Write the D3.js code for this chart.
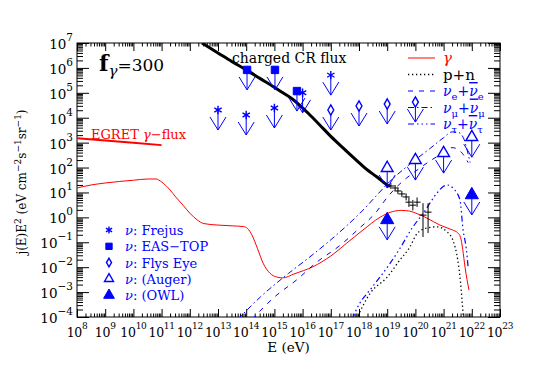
<!DOCTYPE html>
<html>
<head>
<meta charset="utf-8">
<script src="https://cdn.jsdelivr.net/npm/d3@7"></script>
<style>
  body { margin: 0; background: #fff; }
  svg { font-family: "DejaVu Serif", "Liberation Serif", serif; }
</style>
</head>
<body>
<div id="chart"></div>
<script>
// values are log10(E/eV) and log10(j E^2)
var gammaCurve = [[8,1.18],[8.5,1.3],[9,1.38],[9.5,1.44],[10,1.49],[10.5,1.54],[10.8,1.54],[11.0,1.42],
  [11.3,1.1],[11.5,0.82],[11.76,0.49],[12.0,0.17],[12.26,-0.1],[12.5,-0.25],[13.0,-0.31],[13.5,-0.34],
  [13.9,-0.37],[14.05,-0.45],[14.2,-0.7],[14.4,-1.25],[14.6,-1.84],[14.84,-2.24],[15.1,-2.4],[15.3,-2.43],
  [15.7,-2.27],[16.37,-1.98],[17.0,-1.55],[17.57,-1.03],[18.14,-0.51],[18.74,0.0],[19.1,0.2],[19.5,0.28],
  [19.8,0.25],[20.06,0.15],[20.41,-0.03],[20.87,-0.31],[21.3,-0.5],[21.5,-0.62],[21.6,-0.8],[21.68,-1.3],
  [21.76,-2.0],[21.9,-2.92]];
var egretFlux = [[8,3.18],[9,3.09],[10,3.0],[11,2.9]];
var crFlux = [[12.43,7.0],[13.0,6.6],[13.5,6.25],[14.0,5.92],[14.5,5.57],[15.0,5.22],[15.3,5.0],[15.6,4.78],
  [15.9,4.5],[16.2,4.18],[16.6,3.72],[17.0,3.25],[17.5,2.72],[18.0,2.2],[18.3,1.9],[18.64,1.62],[19.0,1.3],[19.1,1.24]];
var pnCurve = [[17.9,-4.1],[18.4,-3.04],[19.0,-2.4],[19.45,-1.71],[19.8,-1.2],[20.06,-0.65],[20.4,-0.43],
  [20.77,-0.38],[21.12,-0.58],[21.33,-0.92],[21.5,-1.7],[21.6,-2.6],[21.69,-3.85],[21.72,-4.3]];
var nuECurve = [[14.2,-4.1],[15.0,-3.2],[15.8,-2.5],[16.5,-1.8],[17.3,-1.15],[18.0,-0.45],[18.6,0.2],[19.0,0.8],
  [19.5,1.4],[20.0,1.85],[20.5,2.25],[21.0,2.6],[21.3,2.8],[21.6,2.65],[21.87,2.2]];
var nuMuCurve = [[13.7,-4.1],[14.5,-3.2],[15.5,-2.25],[16.3,-1.55],[17.0,-0.9],[17.6,-0.3],[18.15,0.3],[18.6,0.85],
  [19.1,1.45],[19.6,1.95],[20.1,2.4],[20.5,2.75],[21.0,3.2],[21.3,3.43],[21.5,3.42],[21.7,3.2],[21.8,2.85],[21.94,2.2]];
var nuTauCurve = [[17.75,-4.1],[18.0,-3.5],[18.4,-2.9],[19.1,-1.85],[19.45,-1.25],[19.9,-0.4],[20.27,0.15],
  [20.77,0.98],[21.0,1.25],[21.15,1.3],[21.35,1.15],[21.58,0.7],[21.69,-0.5],[21.8,-1.23],[21.87,-2.0]];

// AGASA-like crosses: logE, logJ, lower, upper
var crDataE  = [19.13,19.28,19.38,19.52,19.67,19.77,19.91,20.06,20.27,20.45];
var crDataJ  = [1.26,1.18,1.06,0.94,0.82,0.61,0.49,0.61,0.09,0.21];
var crDataLo = [1.14,1.06,0.94,0.82,0.68,0.42,0.28,0.42,-0.79,-0.63];
var crDataHi = [1.38,1.3,1.18,1.06,0.96,0.8,0.7,0.8,0.57,0.57];

// neutrino upper limits
var frejusE = [13,14,15,16,17],        frejusJ = [4.31,4.11,4.39,5.0,5.71];
var easTopE = [14.03,15.02,15.8],      easTopJ = [5.92,5.92,5.07];
var flysEyeE = [17,18,19,20],          flysEyeJ = [4.31,4.47,4.55,4.63];
var augerE = [19,20,21,22],            augerJ = [1.98,2.3,2.58,3.22];
var owlE = [19,22],                    owlJ = [-0.1,0.9];

var xExp = d3.range(8, 24);
var yExp = d3.range(-4, 8);

var svgWidth = 557, svgHeight = 370;
var margin = {top: 43, left: 77, right: 57, bottom: 53};
var x0 = margin.left, x1 = svgWidth - margin.right;
var y0 = margin.top, y1 = svgHeight - margin.bottom;

var svg = d3.select("#chart").append("svg")
  .attr("width", svgWidth).attr("height", svgHeight);

var x = d3.scaleLog().domain([1e8, 1e23]).range([x0, x1]);
var y = d3.scaleLog().domain([1e-4, 1e7]).range([y1, y0]);
var px = function(e) { return x(Math.pow(10, e)); };
var py = function(j) { return y(Math.pow(10, j)); };

// minor ticks
function minors(lo, hi) {
  var out = [];
  for (var k = lo; k < hi; k++) for (var m = 2; m <= 9; m++) out.push(m * Math.pow(10, k));
  return out;
}
var xMaj = xExp.map(function(k) { return Math.pow(10, k); });
var yMaj = yExp.map(function(k) { return Math.pow(10, k); });

function addAxis(gen, tr, vals, size) {
  var g = svg.append("g").attr("transform", tr)
    .call(gen.tickValues(vals).tickSize(size).tickFormat(function() { return ""; }));
  g.select(".domain").remove();
  g.selectAll("line").attr("stroke", "#000");
}
addAxis(d3.axisBottom(x), "translate(0," + y1 + ")", xMaj, -8);
addAxis(d3.axisBottom(x), "translate(0," + y1 + ")", minors(8, 23), -3.5);
addAxis(d3.axisTop(x), "translate(0," + y0 + ")", xMaj, -8);
addAxis(d3.axisTop(x), "translate(0," + y0 + ")", minors(8, 23), -3.5);
addAxis(d3.axisLeft(y), "translate(" + x0 + ",0)", yMaj, -12);
addAxis(d3.axisLeft(y), "translate(" + x0 + ",0)", minors(-4, 7), -6);
addAxis(d3.axisRight(y), "translate(" + x1 + ",0)", yMaj, -12);
addAxis(d3.axisRight(y), "translate(" + x1 + ",0)", minors(-4, 7), -6);

svg.append("rect").attr("x", x0).attr("y", y0)
  .attr("width", x1 - x0).attr("height", y1 - y0)
  .attr("fill", "none").attr("stroke", "#000");

// tick labels
function powLabel(sel, k, supSize) {
  sel.append("tspan").text("10");
  sel.append("tspan").attr("dy", -8).attr("font-size", supSize)
    .text(k < 0 ? "\u2212" + (-k) : k);
}
svg.append("g").selectAll("text").data(xExp).enter().append("text")
  .attr("x", function(k) { return px(k); }).attr("y", y1 + 20)
  .attr("text-anchor", "middle").attr("font-size", 12.5).attr("letter-spacing", -0.3)
  .each(function(k) { powLabel(d3.select(this), k, 9); });
svg.append("g").selectAll("text").data(yExp).enter().append("text")
  .attr("x", x0 - 4).attr("y", function(k) { return py(k) + 6; })
  .attr("text-anchor", "end").attr("font-size", 13.5)
  .each(function(k) { powLabel(d3.select(this), k, 10.5); });

// axis titles
svg.append("text").attr("x", (x0 + x1) / 2).attr("y", 352)
  .attr("text-anchor", "middle").attr("font-size", 13.5).text("E (eV)");
var yt = svg.append("text")
  .attr("transform", "translate(26," + ((y0 + y1) / 2 + 2) + ") rotate(-90)")
  .attr("text-anchor", "middle").attr("font-size", 12);
[["j(E)E", 0], ["2", 1], [" (eV cm", 0], ["\u22122", 1], ["s", 0], ["\u22121", 1], ["sr", 0], ["\u22121", 1], [")", 0]]
  .forEach(function(p, i, arr) {
    var prevSup = i > 0 && arr[i - 1][1];
    yt.append("tspan").attr("font-size", p[1] ? 9 : 12)
      .attr("dy", p[1] ? -5 : (prevSup ? 5 : 0)).text(p[0]);
  });

// curves
svg.append("clipPath").attr("id", "plot").append("rect")
  .attr("x", x0).attr("y", y0).attr("width", x1 - x0).attr("height", y1 - y0);
var plot = svg.append("g").attr("clip-path", "url(#plot)");

var line = d3.line().x(function(d) { return px(d[0]); }).y(function(d) { return py(d[1]); })
  .curve(d3.curveMonotoneX);

function curve(data, color, width, dash) {
  plot.append("path").datum(data).attr("d", line)
    .attr("fill", "none").attr("stroke", color).attr("stroke-width", width)
    .attr("stroke-dasharray", dash);
}
curve(egretFlux, "#f00", 2, null);
curve(crFlux, "#000", 3, null);
curve(gammaCurve, "#f00", 1, null);
curve(pnCurve, "#000", 1.3, "1.3 2.7");
curve(nuECurve, "#00f", 1, "5 6");
curve(nuMuCurve, "#00f", 1, "6 3 1.5 3");
curve(nuTauCurve, "#00f", 1.2, "6 3 1.5 3 1.5 3 1.5 3");

// data crosses
var cr = plot.append("g").attr("stroke", "#000").attr("stroke-width", 1);
crDataE.forEach(function(e, i) {
  cr.append("line").attr("x1", px(e) - 3.5).attr("x2", px(e) + 3.5)
    .attr("y1", py(crDataJ[i])).attr("y2", py(crDataJ[i]));
  cr.append("line").attr("x1", px(e)).attr("x2", px(e))
    .attr("y1", py(crDataLo[i])).attr("y2", py(crDataHi[i]));
});

// upper limits
var blue = "#00f";
function drawSymbol(g, type, cx, cy, size, filled) {
  g.append("path").attr("d", d3.symbol().type(type).size(size)())
    .attr("transform", "translate(" + cx + "," + cy + ")")
    .attr("fill", filled ? blue : "#fff").attr("stroke", blue)
    .attr("stroke-width", filled ? 1 : 1.4);
}
function limits(es, js, type, size, filled) {
  var g = svg.append("g");
  es.forEach(function(e, i) {
    var cx = px(e), cy = py(js[i]);
    g.append("line").attr("x1", cx).attr("x2", cx).attr("y1", cy).attr("y2", cy + 20)
      .attr("stroke", blue);
    g.append("polyline")
      .attr("points", [[cx - 8, cy + 7], [cx, cy + 20], [cx + 8, cy + 7]].join(" "))
      .attr("fill", "none").attr("stroke", blue);
    drawSymbol(g, type, cx, cy, size, filled);
  });
}
limits(frejusE, frejusJ, d3.symbolAsterisk, 50, false);
limits(easTopE, easTopJ, d3.symbolSquare, 55, true);
limits(flysEyeE, flysEyeJ, d3.symbolDiamond, 30, false);
limits(augerE, augerJ, d3.symbolTriangle, 60, false);
limits(owlE, owlJ, d3.symbolTriangle, 75, true);

// labels in the plot
svg.append("text").attr("x", 91).attr("y", 139).attr("fill", "#f00").attr("font-size", 13)
  .html('EGRET <tspan font-style="italic">\u03b3</tspan>\u2212flux');
svg.append("text").attr("x", 232).attr("y", 63).attr("font-size", 14).text("charged CR flux");
var fg = svg.append("text").attr("x", 99).attr("y", 71).attr("font-size", 17);
fg.append("tspan").attr("font-size", 22).attr("font-weight", "bold").text("f");
fg.append("tspan").attr("dy", 5).attr("font-size", 15).attr("font-style", "italic").text("\u03b3");
fg.append("tspan").attr("dy", -5).text("=300");

// legend top right
var legend = [
  {color: "#f00", dash: null, w: 1},
  {color: "#000", dash: "1.3 2.7", w: 1.3},
  {color: blue, dash: "5 6", w: 1},
  {color: blue, dash: "6 3 1.5 3", w: 1},
  {color: blue, dash: "6 3 1.5 3 1.5 3 1.5 3", w: 1}
];
var nuLabels = [null, null, "e", "\u03bc", "\u03c4"];
legend.forEach(function(l, i) {
  var ly = 58 + i * 16.5;
  svg.append("line").attr("x1", 408).attr("x2", 435).attr("y1", ly).attr("y2", ly)
    .attr("stroke", l.color).attr("stroke-width", l.w).attr("stroke-dasharray", l.dash);
  var t = svg.append("text").attr("x", 443).attr("y", ly + 5).attr("fill", l.color).attr("font-size", 15);
  if (i === 0) t.append("tspan").attr("font-style", "italic").text("\u03b3");
  else if (i === 1) t.text("p+n");
  else {
    t.attr("font-size", 14);
    t.append("tspan").attr("font-style", "italic").text("\u03bd");
    t.append("tspan").attr("dy", 4).attr("font-size", 10).text(nuLabels[i]);
    t.append("tspan").attr("dy", -4).text("+");
    t.append("tspan").attr("font-style", "italic").attr("text-decoration", "overline").text("\u03bd");
    t.append("tspan").attr("dy", 4).attr("font-size", 10).text(nuLabels[i]);
  }
});

// legend bottom left
var expNames = ["Frejus", "EAS\u2212TOP", "Flys Eye", "(Auger)", "(OWL)"];
var expSymbols = [[d3.symbolAsterisk, 35, false], [d3.symbolSquare, 40, true], [d3.symbolDiamond, 22, false],
  [d3.symbolTriangle, 35, false], [d3.symbolTriangle, 50, true]];
var lg = svg.append("g");
expNames.forEach(function(name, i) {
  var ly = 230 + i * 16.3;
  drawSymbol(lg, expSymbols[i][0], 109, ly, expSymbols[i][1], expSymbols[i][2]);
  var t = lg.append("text").attr("x", 125).attr("y", ly + 5).attr("fill", blue).attr("font-size", 13);
  t.append("tspan").attr("font-style", "italic").text("\u03bd");
  t.append("tspan").text(": " + name);
});
</script>
</body>
</html>
